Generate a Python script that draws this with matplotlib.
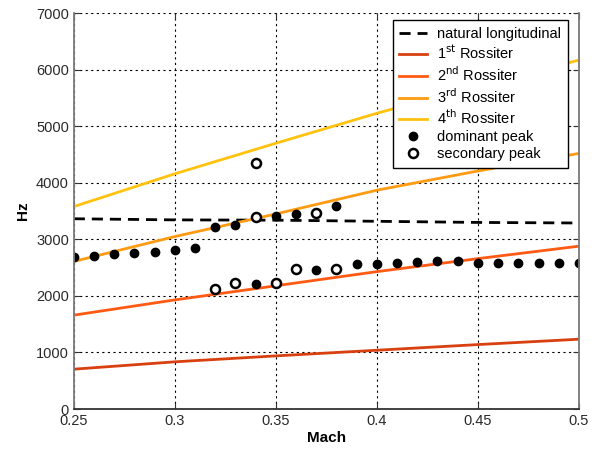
import matplotlib
matplotlib.use('Agg')
import matplotlib.pyplot as plt

plt.rcParams['font.family'] = ['Liberation Sans', 'DejaVu Sans']

# Mach numbers for the model curves
mach_model = [0.25, 0.30, 0.35, 0.40, 0.45, 0.50]
natural_long = [3365, 3345, 3340, 3320, 3300, 3290]
rossiter_1 = [705, 835, 940, 1040, 1140, 1235]
rossiter_2 = [1660, 1930, 2180, 2430, 2660, 2880]
rossiter_3 = [2610, 3050, 3450, 3870, 4210, 4520]
rossiter_4 = [3580, 4160, 4700, 5230, 5720, 6170]

# measured spectral peaks
dom_mach = [0.25, 0.26, 0.27, 0.28, 0.29, 0.30, 0.31, 0.32, 0.33, 0.34, 0.35,
            0.36, 0.37, 0.38, 0.39, 0.40, 0.41, 0.42, 0.43, 0.44, 0.45, 0.46,
            0.47, 0.48, 0.49, 0.50]
dom_hz = [2680, 2710, 2735, 2755, 2785, 2810, 2850, 3220, 3250, 2210, 3415,
          3450, 2455, 3590, 2565, 2565, 2580, 2605, 2610, 2610, 2580, 2575,
          2575, 2575, 2575, 2575]
sec_mach = [0.32, 0.33, 0.34, 0.34, 0.35, 0.36, 0.37, 0.38]
sec_hz = [2120, 2230, 3390, 4350, 2235, 2485, 3475, 2485]

fig = plt.figure(figsize=(5.95, 4.55), dpi=100)
ax = fig.add_axes([0.124, 0.101, 0.849, 0.870])

ax.plot(mach_model, natural_long, color='black', lw=2, dashes=(4, 2.5),
        label='natural longitudinal')
ax.plot(mach_model, rossiter_1, color='#d84010', lw=2, label=r'1$^{\mathrm{st}}$ Rossiter')
ax.plot(mach_model, rossiter_2, color='#ff5a14', lw=2, label=r'2$^{\mathrm{nd}}$ Rossiter')
ax.plot(mach_model, rossiter_3, color='#ff9b12', lw=2, label=r'3$^{\mathrm{rd}}$ Rossiter')
ax.plot(mach_model, rossiter_4, color='#ffc20e', lw=2, label=r'4$^{\mathrm{th}}$ Rossiter')
ax.plot(dom_mach, dom_hz, 'o', color='black', ms=6, label='dominant peak')
ax.plot(sec_mach, sec_hz, 'o', mfc='white', mec='black', mew=1.8, ms=6.5,
        label='secondary peak')

ax.set_xlim(0.25, 0.5)
ax.set_ylim(0, 7000)
ax.set_xticks([0.25, 0.3, 0.35, 0.4, 0.45, 0.5])
ax.set_xticklabels(['0.25', '0.3', '0.35', '0.4', '0.45', '0.5'])
ax.set_yticks(range(0, 7001, 1000))
ax.tick_params(direction='in', length=4, labelsize=10.5, top=True, right=True,
               colors='#333333', labelcolor='#2a2a2a')
ax.grid(True, color='black', linestyle=(0, (2, 3)), linewidth=0.8)

for side in ['left', 'right', 'bottom']:
    ax.spines[side].set_color('#7a7a7a')
    ax.spines[side].set_linewidth(1.3)
ax.spines['bottom'].set_color('#333333')
ax.spines['top'].set_visible(False)

ax.set_xlabel('Mach', fontsize=11, fontweight='bold', labelpad=2)
ax.set_ylabel('Hz', fontsize=11, fontweight='bold', labelpad=4)

leg = ax.legend(loc='upper right', bbox_to_anchor=(0.978, 0.982), fontsize=10.5,
                frameon=True, fancybox=False, framealpha=1, edgecolor='black',
                borderpad=0.45, labelspacing=0.2, handlelength=1.9,
                handletextpad=0.7, borderaxespad=0)
leg.get_frame().set_linewidth(1.0)

fig.savefig('out.png', dpi=100)
